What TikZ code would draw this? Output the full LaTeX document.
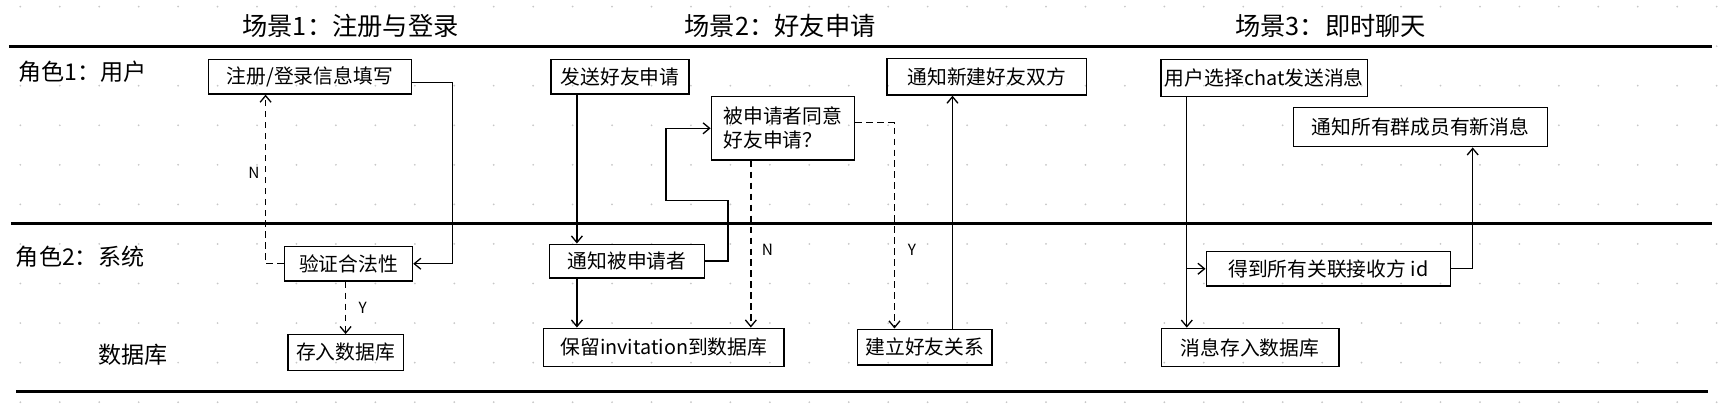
\documentclass[tikz,border=0pt]{standalone}
\usepackage{fontspec}
\setmainfont{Noto Sans CJK SC}
\usetikzlibrary{arrows.meta}
\tikzset{
  box/.style={draw=black, line width=1.3pt, inner sep=0pt, font=\fontsize{18}{22}\selectfont, anchor=center},
  conn/.style={line width=1.2pt, -{Straight Barb[length=6pt,width=10pt,line width=1.2pt]}},
  dconn/.style={conn, dash pattern=on 6pt off 4pt},
  plain/.style={line width=1.2pt},
  lane/.style={line width=2.4pt},
  ttl/.style={font=\fontsize{23}{26}\selectfont},
  lbl/.style={font=\fontsize{21}{24}\selectfont},
  yn/.style={font=\fontsize{14}{16}\selectfont},
  griddot/.style={fill=black!22},
}
\begin{document}
\begin{tikzpicture}[x=1pt,y=-1pt]
\useasboundingbox (0,0) rectangle (1568,367);
\fill[white] (0,0) rectangle (1568,367);
% dotted grid
\foreach \i in {0,...,43}{
  \foreach \j in {0,...,10}{
    \fill[griddot] (18.5+35.9*\i, 6+36*\j) circle (0.9pt);
  }
}
% lane lines
\draw[lane] (8,42.4) -- (1558,42.4);
\draw[lane] (10,203.2) -- (1558,203.2);
\draw[lane] (15,356) -- (1554,356);
% titles
\node[ttl] (t1) at (319,24) {场景1：注册与登录};
\node[ttl] (t2) at (710,24) {场景2：好友申请};
\node[ttl] (t3) at (1211,24) {场景3：即时聊天};
% lane labels
\node[lbl, anchor=west] (lane1) at (13,65) {角色1：用户};
\node[lbl, anchor=west] (lane2) at (11,234) {角色2：系统};
\node[lbl] (lane3) at (121,323) {数据库};
% scenario 1
\node[box, minimum width=185pt, minimum height=31.5pt] (a1) at (282,69.75) {注册/登录信息填写};
\node[box, minimum width=116.4pt, minimum height=31.2pt] (a2) at (317.2,240) {验证合法性};
\node[box, minimum width=105pt, minimum height=32.3pt] (a3) at (314.5,320.8) {存入数据库};
% scenario 2
\node[box, minimum width=125.5pt, minimum height=31.5pt] (b1) at (564.25,69.75) {发送好友申请};
\node[box, minimum width=141.2pt, minimum height=30.7pt] (b2) at (570.6,237.6) {通知被申请者};
\node[box, minimum width=130.3pt, minimum height=57.5pt, align=left] (b3) at (712.5,116.75) {被申请者同意\\好友申请？};
\node[box, minimum width=218.8pt, minimum height=34.8pt] (b4) at (604.2,316.1) {保留invitation到数据库};
\node[box, minimum width=181.7pt, minimum height=33.4pt] (b5) at (897.9,69.7) {通知新建好友双方};
\node[box, minimum width=122.6pt, minimum height=32.4pt] (b6) at (841.6,315.8) {建立好友关系};
% scenario 3
\node[box, minimum width=188.3pt, minimum height=34pt] (c1) at (1150.5,71) {用户选择chat发送消息};
\node[box, minimum width=222.2pt, minimum height=31.2pt] (c2) at (1208.8,244.6) {得到所有关联接收方 id};
\node[box, minimum width=231.4pt, minimum height=35.8pt] (c3) at (1292.7,115.6) {通知所有群成员有新消息};
\node[box, minimum width=161.6pt, minimum height=34.8pt] (c4) at (1137.6,316.2) {消息存入数据库};
% helper coordinates
\coordinate (xb) at (525,0);
\coordinate (xn) at (683.3,0);
\coordinate (xy) at (814,0);
\coordinate (xf) at (866.8,0);
\coordinate (xc) at (1080,0);
\coordinate (xr) at (1340.2,0);
\coordinate (b2r) at (662.5,182.5);
\coordinate (b3l) at (606,182.5);
% connectors scenario 1
\draw[conn] ([yshift=-5.5pt]a1.east) -| ([xshift=36pt]a2.east) -- (a2.east);
\draw[dconn] (a2.west) -| ([xshift=-40.3pt]a1.south);
\draw[dconn] (a3.north |- a2.south) -- (a3.north);
\node[yn] (n1) at (231,157.6) {N};
\node[yn] (y1) at (330,280.5) {Y};
% connectors scenario 2
\draw[conn] (b1.south -| xb) -- (b2.north -| xb);
\draw[conn] (b2.south -| xb) -- (b4.north -| xb);
\draw[conn] (b2.east) -| (b2r) -- (b3l) |- (b3.west);
\draw[dconn] (b3.south -| xn) -- (b4.north -| xn);
\draw[dconn] ([yshift=5pt]b3.east) -| (b6.north -| xy);
\draw[conn] (b6.north -| xf) -- (b5.south -| xf);
\node[yn] (n2) at (698.5,227.5) {N};
\node[yn] (y2) at (829.8,227.5) {Y};
% connectors scenario 3
\draw[conn] (c1.south -| xc) -- (c4.north -| xc);
\draw[conn] (c2.west -| xc) -- (c2.west);
\draw[conn] (c2.east) -| (c3.south -| xr);
\end{tikzpicture}
\end{document}
